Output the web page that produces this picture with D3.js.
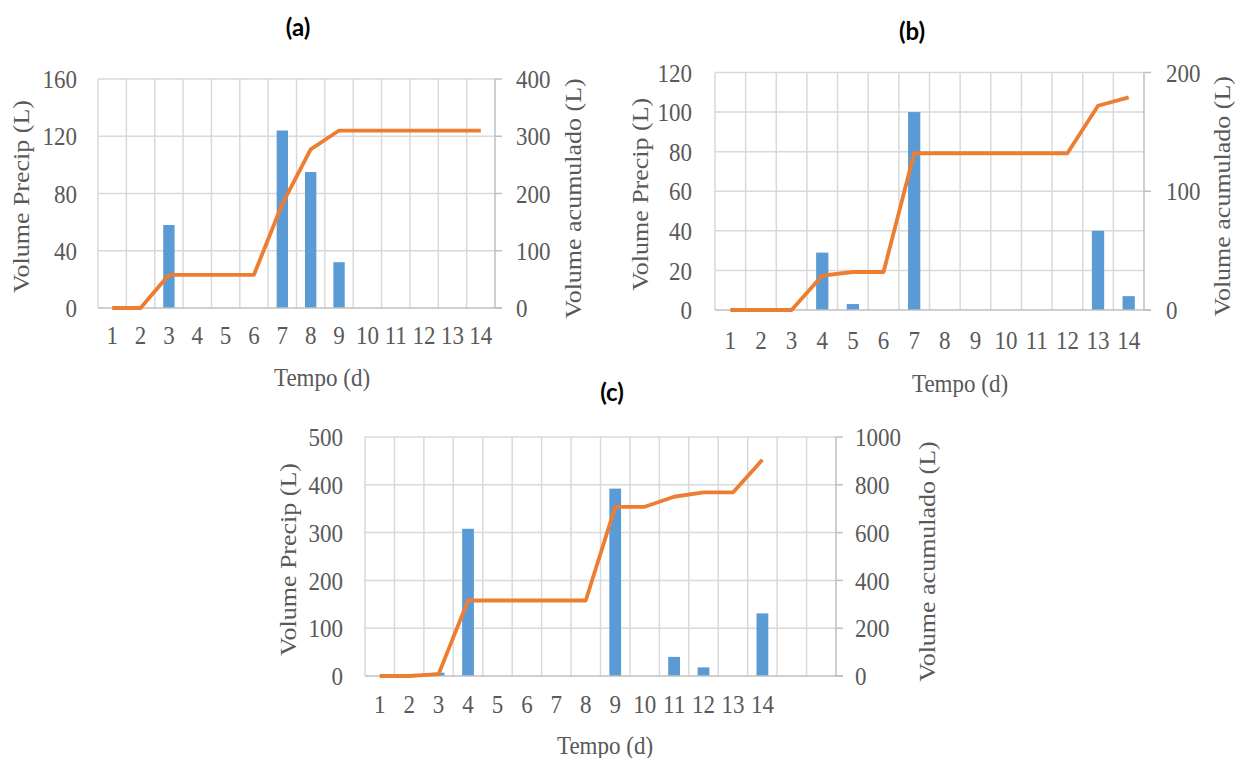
<!DOCTYPE html>
<html>
<head>
<meta charset="utf-8">
<script src="https://cdn.jsdelivr.net/npm/d3@7"></script>
<style>
  body { margin: 0; background: #fff; }
  svg text { font-family: "Liberation Serif", "Times New Roman", serif; fill: #595959; }
  svg text.title { font-family: Lato, "Open Sans", sans-serif; font-weight: bold; fill: #000; }
</style>
</head>
<body>
<svg id="chart" width="1235" height="758"></svg>
<script>
// day labels
var daysA = ['1','2','3','4','5','6','7','8','9','10','11','12','13','14'];
var daysB = ['1','2','3','4','5','6','7','8','9','10','11','12','13','14'];
var daysC = ['1','2','3','4','5','6','7','8','9','10','11','12','13','14','',''];

// precipitation volume (L), bars
var precipA = [0, 0, 58, 0, 0, 0, 124, 95, 32, 0, 0, 0, 0, 0];
var precipB = [0, 0, 0, 29, 3, 0, 100, 0, 0, 0, 0, 0, 40, 7];
var precipC = [0, 0, 7, 308, 0, 0, 0, 0, 392, 0, 40, 18, 0, 131, null, null];

// accumulated volume (L), line
var acumA = [0, 0, 58, 58, 58, 58, 182, 277, 310, 310, 310, 310, 310, 310];
var acumB = [0, 0, 0, 29, 32, 32, 132, 132, 132, 132, 132, 132, 172, 179];
var acumC = [0, 0, 8, 316, 316, 316, 316, 316, 708, 708, 750, 768, 768, 905, null, null];

// axis ticks
var leftTicksA = [0, 40, 80, 120, 160], rightTicksA = [0, 100, 200, 300, 400];
var leftTicksB = [0, 20, 40, 60, 80, 100, 120], rightTicksB = [0, 100, 200];
var leftTicksC = [0, 100, 200, 300, 400, 500], rightTicksC = [0, 200, 400, 600, 800, 1000];

var svg = d3.select('#chart');
var FS = 23, STRETCH = 1.13;

// text slightly taller than wide, like the scanned figure
function label(g, x, y, txt, anchor, rotated) {
    var t = 'translate(' + x + ',' + y + ')' + (rotated ? ' rotate(-90) scale(' + STRETCH + ',1)' : ' scale(1,' + STRETCH + ')');
    return g.append('text').attr('transform', t)
        .attr('dy', '0.35em').attr('text-anchor', anchor).attr('font-size', FS)
        .text(txt);
}

function drawPanel(p) {
    var g = svg.append('g');
    var idx = d3.range(p.days.length);
    var x = d3.scaleBand().domain(idx).range([p.x0, p.x1]);
    var yL = d3.scaleLinear().domain([0, d3.max(p.leftTicks)]).range([p.y1, p.y0]);
    var yR = d3.scaleLinear().domain([0, d3.max(p.rightTicks)]).range([p.y1, p.y0]);

    // horizontal gridlines
    g.selectAll('line.hg').data(p.leftTicks.filter(function (d) { return d > 0; })).enter()
        .append('line')
        .attr('x1', p.x0).attr('x2', p.x1)
        .attr('y1', function (d) { return yL(d); }).attr('y2', function (d) { return yL(d); })
        .attr('stroke', '#d9d9d9').attr('stroke-width', 1.5);
    // vertical gridlines at band edges
    var edges = idx.map(function (i) { return x(i); });
    g.selectAll('line.vg').data(edges).enter()
        .append('line')
        .attr('x1', function (d) { return d; }).attr('x2', function (d) { return d; })
        .attr('y1', p.y0).attr('y2', p.y1)
        .attr('stroke', '#d9d9d9').attr('stroke-width', 1.5);

    // right axis
    g.append('line').attr('x1', p.x1).attr('x2', p.x1).attr('y1', p.y0).attr('y2', p.y1)
        .attr('stroke', '#bfbfbf').attr('stroke-width', 1.5);
    g.selectAll('line.rt').data(p.rightTicks).enter()
        .append('line')
        .attr('x1', p.x1).attr('x2', p.x1 + 7)
        .attr('y1', function (d) { return yR(d); }).attr('y2', function (d) { return yR(d); })
        .attr('stroke', '#bfbfbf').attr('stroke-width', 1.5);

    // bars
    var bw = x.bandwidth() * 0.4;
    g.selectAll('rect').data(idx.filter(function (i) { return p.precip[i] > 0; })).enter()
        .append('rect')
        .attr('x', function (i) { return x(i) + (x.bandwidth() - bw) / 2; })
        .attr('y', function (i) { return yL(p.precip[i]); })
        .attr('width', bw)
        .attr('height', function (i) { return yL(0) - yL(p.precip[i]); })
        .attr('fill', '#5b9bd5');

    // bottom axis line
    g.append('line').attr('x1', p.x0).attr('x2', p.x1 + 7).attr('y1', p.y1).attr('y2', p.y1)
        .attr('stroke', '#bfbfbf').attr('stroke-width', 1.5);

    // cumulative line
    var line = d3.line()
        .defined(function (i) { return p.acum[i] != null; })
        .x(function (i) { return x(i) + x.bandwidth() / 2; })
        .y(function (i) { return yR(p.acum[i]); });
    g.append('path').datum(idx).attr('d', line)
        .attr('fill', 'none').attr('stroke', '#ed7d31').attr('stroke-width', 3.8)
        .attr('stroke-linejoin', 'round');

    // tick labels
    p.leftTicks.forEach(function (d) { label(g, p.x0 - p.lGap, yL(d), d, 'end'); });
    p.rightTicks.forEach(function (d) { label(g, p.x1 + p.rGap, yR(d), d, 'start'); });
    idx.forEach(function (i) { label(g, x(i) + x.bandwidth() / 2, p.y1 + p.xLabelOff, p.days[i], 'middle'); });

    // axis titles
    label(g, p.xTitleX, p.xTitleY, 'Tempo (d)', 'middle');
    label(g, p.lTitleX, (p.y0 + p.y1) / 2 + 3, 'Volume Precip (L)', 'middle', true);
    label(g, p.rTitleX, (p.y0 + p.y1) / 2 + 5, 'Volume acumulado (L)', 'middle', true);

    // panel title
    g.append('text').attr('class', 'title').attr('x', p.titleX).attr('y', p.titleY)
        .attr('dy', '0.35em').attr('text-anchor', 'middle').attr('font-size', 24)
        .text(p.title);
}

drawPanel({ title: '(a)', titleX: 298, titleY: 28,
    days: daysA, precip: precipA, acum: acumA, leftTicks: leftTicksA, rightTicks: rightTicksA,
    x0: 98, x1: 495, y0: 79, y1: 308, lGap: 21, rGap: 21, xLabelOff: 27,
    xTitleX: 322, xTitleY: 377, lTitleX: 21, rTitleX: 573 });
drawPanel({ title: '(b)', titleX: 912, titleY: 32,
    days: daysB, precip: precipB, acum: acumB, leftTicks: leftTicksB, rightTicks: rightTicksB,
    x0: 715, x1: 1144, y0: 72.5, y1: 310, lGap: 23, rGap: 22, xLabelOff: 30,
    xTitleX: 960, xTitleY: 383, lTitleX: 640, rTitleX: 1222 });
drawPanel({ title: '(c)', titleX: 612, titleY: 393,
    days: daysC, precip: precipC, acum: acumC, leftTicks: leftTicksC, rightTicks: rightTicksC,
    x0: 365, x1: 836, y0: 437, y1: 676, lGap: 22, rGap: 19, xLabelOff: 28,
    xTitleX: 605, xTitleY: 745, lTitleX: 288, rTitleX: 927 });
</script>
</body>
</html>
